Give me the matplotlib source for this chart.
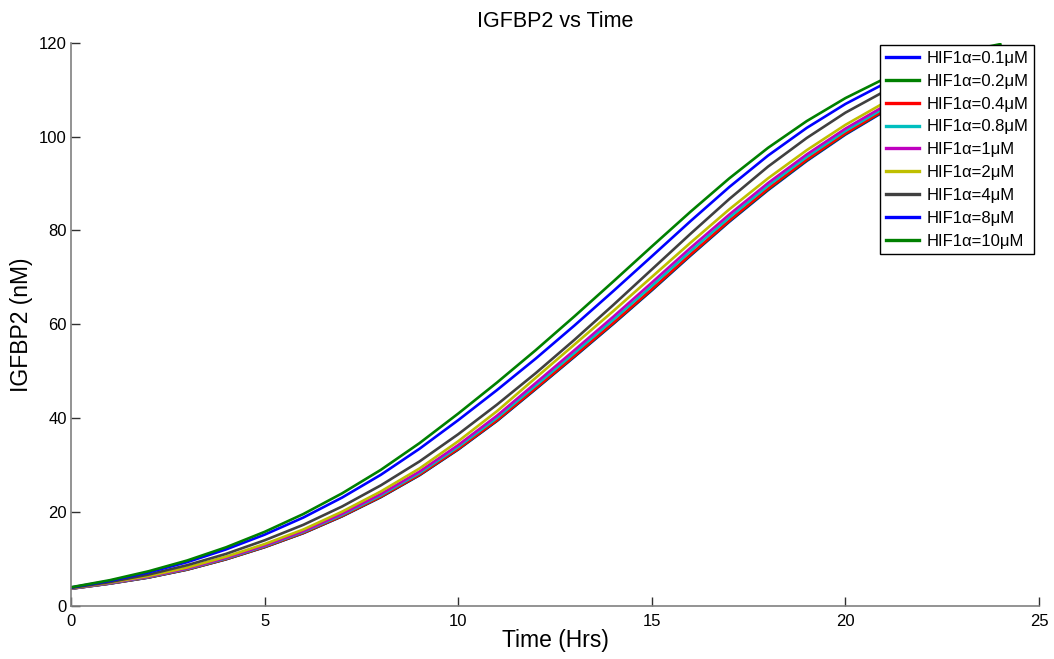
import matplotlib
matplotlib.use("Agg")
import matplotlib.pyplot as plt

plt.rcParams['font.family'] = ['Liberation Sans', 'DejaVu Sans']

hours = list(range(0, 25))

labels = ["HIF1\u03b1=0.1\u03bcM", "HIF1\u03b1=0.2\u03bcM", "HIF1\u03b1=0.4\u03bcM",
          "HIF1\u03b1=0.8\u03bcM", "HIF1\u03b1=1\u03bcM", "HIF1\u03b1=2\u03bcM",
          "HIF1\u03b1=4\u03bcM", "HIF1\u03b1=8\u03bcM", "HIF1\u03b1=10\u03bcM"]

hif_01 = [3.68, 4.77, 6.06, 7.75, 9.94, 12.53, 15.52, 19.1, 23.18, 27.86, 33.34, 39.42, 46.2,
          53.08, 60.06, 67.25, 74.65, 81.85, 88.58, 94.8, 100.43, 105.35, 109.67, 113.3, 116.24]
hif_02 = [3.69, 4.78, 6.08, 7.77, 9.96, 12.56, 15.55, 19.14, 23.22, 27.91, 33.4, 39.49, 46.28,
          53.17, 60.16, 67.35, 74.76, 81.96, 88.7, 94.92, 100.55, 105.47, 109.78, 113.4, 116.32]
hif_04 = [3.7, 4.8, 6.1, 7.8, 10.0, 12.6, 15.6, 19.2, 23.3, 28.0, 33.5, 39.6, 46.4,
          53.3, 60.3, 67.5, 74.9, 82.1, 88.9, 95.1, 100.7, 105.6, 109.9, 113.5, 116.4]
hif_08 = [3.72, 4.85, 6.17, 7.9, 10.12, 12.75, 15.78, 19.42, 23.57, 28.32, 33.9, 40.07, 46.95,
          53.9, 60.95, 68.2, 75.6, 82.75, 89.5, 95.65, 101.2, 106.05, 110.3, 113.85, 116.7]
hif_1 = [3.75, 4.9, 6.25, 8.0, 10.25, 12.9, 15.95, 19.65, 23.85, 28.65, 34.3, 40.55, 47.5,
         54.5, 61.6, 68.9, 76.3, 83.4, 90.1, 96.2, 101.7, 106.5, 110.7, 114.2, 117.0]
hif_2 = [3.8, 5.0, 6.4, 8.2, 10.5, 13.2, 16.3, 20.1, 24.4, 29.3, 35.1, 41.5, 48.6,
         55.7, 62.8, 70.1, 77.4, 84.5, 91.1, 97.1, 102.5, 107.2, 111.3, 114.7, 117.4]
hif_4 = [3.85, 5.1, 6.7, 8.7, 11.1, 14.0, 17.3, 21.2, 25.7, 30.8, 36.6, 42.9, 49.6,
         56.7, 64.1, 71.7, 79.3, 86.7, 93.6, 99.7, 105.1, 109.6, 113.3, 116.0, 118.0]
hif_8 = [3.95, 5.35, 7.15, 9.35, 12.05, 15.2, 18.85, 23.1, 27.95, 33.5, 39.6, 46.0, 52.7,
         59.75, 67.05, 74.5, 82.0, 89.25, 95.95, 101.85, 106.95, 111.25, 114.75, 117.3, 119.1]
hif_10 = [4.0, 5.5, 7.4, 9.7, 12.5, 15.8, 19.6, 24.0, 29.0, 34.7, 41.0, 47.6, 54.5,
          61.7, 69.1, 76.6, 84.0, 91.1, 97.6, 103.3, 108.2, 112.3, 115.6, 118.0, 119.7]

series = [hif_01, hif_02, hif_04, hif_08, hif_1, hif_2, hif_4, hif_8, hif_10]
colors = ['#0000ff', '#008000', '#ff0000', '#00bfbf', '#bf00bf', '#bfbf00',
          '#404040', '#0000ff', '#008000']

x_ticks = [0, 5, 10, 15, 20, 25]
y_ticks = [0, 20, 40, 60, 80, 100, 120]

fig = plt.figure(figsize=(10.54, 6.59), dpi=100)
ax = fig.add_axes([0.0674, 0.0804, 0.9184, 0.8548])

for vals, col, lab in zip(series, colors, labels):
    ax.plot(hours, vals, color=col, lw=1.9, label=lab)

ax.set_xlim(0, 25)
ax.set_ylim(0, 120)
ax.set_xticks(x_ticks)
ax.set_yticks(y_ticks)
for s in ['top', 'right']:
    ax.spines[s].set_visible(False)
for s in ['left', 'bottom']:
    ax.spines[s].set_color('#808080')
    ax.spines[s].set_linewidth(1.2)
ax.tick_params(direction='in', length=6.5, width=1.0, color='#303030',
               labelsize=12, pad=3)
ax.tick_params(axis='x', pad=6)

ax.set_title('IGFBP2 vs Time', fontsize=15.5, pad=11)
ax.set_xlabel('Time (Hrs)', fontsize=16.5, labelpad=0)
ax.set_ylabel('IGFBP2 (nM)', fontsize=16.5, labelpad=4)

leg = ax.legend(loc='upper right', bbox_to_anchor=(0.981, 0.9317),
                bbox_transform=fig.transFigure, fontsize=12,
                frameon=True, fancybox=False, framealpha=1,
                edgecolor='black', handlelength=2.0, handletextpad=0.4,
                labelspacing=0.47, borderpad=0.35, borderaxespad=0)
leg.get_frame().set_linewidth(1.0)
for h in leg.get_lines():
    h.set_linewidth(2.4)

fig.savefig('out.png', dpi=100)
